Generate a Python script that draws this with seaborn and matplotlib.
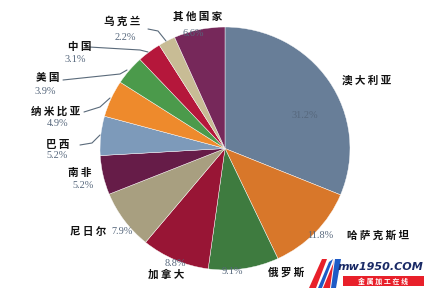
import matplotlib
matplotlib.use("Agg")
import matplotlib.pyplot as plt
import seaborn as sns
from matplotlib.patches import Polygon, Rectangle

sns.set_theme(style="white")
plt.rcParams['font.family'] = ['Noto Sans CJK SC', 'DejaVu Sans']

countries = ["澳大利亚", "哈萨克斯坦", "俄罗斯", "加拿大", "尼日尔", "南非",
             "巴西", "纳米比亚", "美国", "中国", "乌克兰", "其他国家"]
shares = [31.2, 11.8, 9.1, 8.8, 7.9, 5.2, 5.2, 4.9, 3.9, 3.1, 2.2, 6.6]
colors = ["#687e98", "#d8772a", "#3e7b3f", "#981535", "#a89f80", "#661c48",
          "#7d9aba", "#ee8a2c", "#4b9a4b", "#b5173b", "#c8bc95", "#76285a"]
pct_labels = [f"{v:.1f}%" for v in shares]

W, H = 439, 298
fig = plt.figure(figsize=(W / 100, H / 100), dpi=100)
ax = fig.add_axes([0, 0, 1, 1])

cx, cy, rx, ry = 225, 148.5, 125, 121.5

ax.pie(shares, colors=colors, startangle=90, counterclock=False,
       radius=1, center=(0, 0), wedgeprops=dict(linewidth=0.3, edgecolor="#ffffff"))
ax.set_aspect('auto')
ax.set_xlim(-cx / rx, (W - cx) / rx)
ax.set_ylim(-(H - cy) / ry, cy / ry)
ax.axis('off')


def px(x, y):
    return ((x - cx) / rx, (cy - y) / ry)


name_pos = {
    "澳大利亚": (367, 80), "哈萨克斯坦": (378, 236), "俄罗斯": (286, 272),
    "加拿大": (166, 275), "尼日尔": (88, 232), "南非": (80, 173),
    "巴西": (58, 145), "纳米比亚": (56, 112), "美国": (48, 78),
    "中国": (80, 47), "乌克兰": (122, 22), "其他国家": (198, 17),
}
pct_pos = {
    "澳大利亚": (305, 116), "哈萨克斯坦": (320, 236), "俄罗斯": (232, 271),
    "加拿大": (175, 264), "尼日尔": (122, 232), "南非": (83, 186),
    "巴西": (57, 155), "纳米比亚": (58, 124), "美国": (45, 92),
    "中国": (75, 60), "乌克兰": (125, 38), "其他国家": (193, 34),
}
leaders = {
    "乌克兰": [(148, 29), (158, 31), (166, 41)],
    "中国": [(89, 47), (140, 50), (148, 52)],
    "美国": [(63, 80), (120, 74), (127, 70)],
    "纳米比亚": [(84, 112), (100, 107), (110, 98)],
    "巴西": [(80, 145), (92, 143), (100, 135)],
}

for name, pct in zip(countries, pct_labels):
    x, y = px(*name_pos[name])
    ax.text(x, y, " ".join(name), ha="center", va="center",
            fontsize=7.6, fontweight="bold", color="#111111")
    x, y = px(*pct_pos[name])
    ax.text(x, y, pct, ha="center", va="center", fontsize=7.4,
            family=["Liberation Serif"], color="#56677c")

for name, pts in leaders.items():
    xs, ys = zip(*[px(a, b) for a, b in pts])
    ax.plot(xs, ys, color="#5a6a7a", linewidth=0.8)

# watermark logo
def poly(pts, color):
    ax.add_patch(Polygon([px(a, b) for a, b in pts], closed=True,
                         facecolor=color, edgecolor="none", zorder=5))

poly([(309, 288), (322, 259), (327, 259), (316, 288)], "#e8202a")
poly([(318, 288), (329, 262), (333, 259), (322, 288)], "#1e5bc6")
poly([(323, 288), (333, 264), (334, 259), (330, 288)], "#e8202a")
poly([(331, 288), (335, 259), (341, 259), (336, 288)], "#1e5bc6")
x0, y0 = px(343, 286)
x1, y1 = px(424, 276)
ax.add_patch(Rectangle((x0, y0), x1 - x0, y1 - y0, facecolor="#e8202a",
                       edgecolor="none", zorder=5))
x, y = px(383, 281)
ax.text(x, y, "金 属 加 工 在 线", ha="center", va="center", fontsize=5,
        fontweight="bold", color="white", zorder=6)
x, y = px(381, 267)
ax.text(x, y, "mw1950.COM", ha="center", va="center", fontsize=8,
        fontweight="bold", style="italic", family=["DejaVu Sans"],
        color="#1a2a66", zorder=6)

fig.savefig("out.png", dpi=100)
